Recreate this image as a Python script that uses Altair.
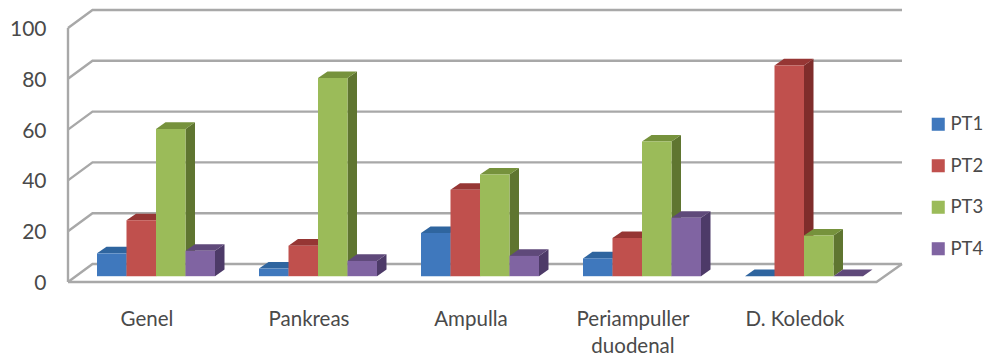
import altair as alt
import pandas as pd

categories = ["Genel", "Pankreas", "Ampulla", "Periampuller\nduodenal", "D. Koledok"]
series_names = ["PT1", "PT2", "PT3", "PT4"]
pt1 = [9, 3, 17, 7, 0]
pt2 = [22, 12, 34, 15, 83]
pt3 = [58, 78, 40, 53, 16]
pt4 = [10, 6, 8, 23, 0]
series_values = [pt1, pt2, pt3, pt4]
tick_values = [0, 20, 40, 60, 80, 100]

front_colors = ["#3F78BD", "#C0504D", "#9BBB59", "#8064A2"]
side_colors = ["#2A5488", "#7F2D2B", "#5F7530", "#4D3A68"]
top_colors = ["#2F659F", "#963634", "#76923C", "#5F497A"]
wall_color = "#A8A8A8"
text_color = "#4A4A4A"
font = "Lato"

# Projection of the pseudo-3D box, in x units and value units
PLOT_W, PLOT_H = 917, 282
UNITS_PER_PX = 1 / 2.54
WALL_DX, WALL_DY = 24.5, 18 * UNITS_PER_PX
RIGHT_BACK, RIGHT_FRONT = 834, 808.5
BAR_DX, BAR_DY = 9.5, 6.6 * UNITS_PER_PX
BAR_BASE = 5.8 * UNITS_PER_PX
GROUP_START, GROUP_STEP, BAR_W = 29, 162, 29.5
LABEL_CENTER = 79
LABEL_Y = -11

x_scale = alt.Scale(domain=[0, PLOT_W], nice=False, zero=False)
y_scale = alt.Scale(domain=[0, PLOT_H * UNITS_PER_PX], nice=False, zero=False)
color_scale = alt.Scale(domain=series_names, range=front_colors)


def wall_lines():
    rows = []
    for v in tick_values:
        for s, (x, y) in enumerate(
            [(0, v), (WALL_DX, v + WALL_DY), (RIGHT_BACK, v + WALL_DY)]
        ):
            rows.append({"line": f"g{v}", "seq": s, "x": x, "y": y})
    for s, (x, y) in enumerate(
        [(0, 0), (RIGHT_FRONT, 0), (RIGHT_BACK, WALL_DY)]
    ):
        rows.append({"line": "floor", "seq": s, "x": x, "y": y})
    for s, (x, y) in enumerate([(0, 0), (0, 100)]):
        rows.append({"line": "wall", "seq": s, "x": x, "y": y})
    return pd.DataFrame(rows)


def bar_left(i, j):
    return GROUP_START + GROUP_STEP * i + BAR_W * j


def front_rows(j):
    return pd.DataFrame(
        [
            {
                "series": series_names[j],
                "x": bar_left(i, j),
                "x2": bar_left(i, j) + BAR_W,
                "y": BAR_BASE + v,
                "y2": BAR_BASE,
            }
            for i, v in enumerate(series_values[j])
        ]
    )


def side_rows(j):
    rows = []
    for i, v in enumerate(series_values[j]):
        r = bar_left(i, j) + BAR_W
        rows.append({"bar": i, "x": r, "y": BAR_BASE + v, "y2": BAR_BASE})
        rows.append(
            {
                "bar": i,
                "x": r + BAR_DX,
                "y": BAR_BASE + v + BAR_DY,
                "y2": BAR_BASE + BAR_DY,
            }
        )
    return pd.DataFrame(rows)


def top_rows(j):
    rows = []
    for i, v in enumerate(series_values[j]):
        left = bar_left(i, j)
        t = BAR_BASE + v
        rows += [
            {"bar": i, "x": left, "y": t, "y2": t},
            {"bar": i, "x": left + BAR_DX, "y": t + BAR_DY, "y2": t},
            {"bar": i, "x": left + BAR_W, "y": t + BAR_DY, "y2": t},
            {"bar": i, "x": left + BAR_W + BAR_DX, "y": t + BAR_DY, "y2": t + BAR_DY},
        ]
    return pd.DataFrame(rows)


X = alt.X("x:Q", scale=x_scale, axis=None)
# Every layer carries the same value axis so the merged axis keeps its labels
Y = alt.Y(
    "y:Q",
    scale=y_scale,
    title=None,
    axis=alt.Axis(
        values=tick_values,
        domain=False,
        ticks=False,
        grid=False,
        labelFont=font,
        labelFontSize=21,
        labelColor=text_color,
        labelPadding=22,
        labelOffset=1.5,
    ),
)

walls = (
    alt.Chart(wall_lines())
    .mark_line(color=wall_color, strokeWidth=2.4, interpolate="linear", strokeJoin="miter")
    .encode(x=X, y=Y, detail="line:N", order="seq:Q")
)

layers = [walls]
for j in range(len(series_names)):
    layers.append(
        alt.Chart(side_rows(j))
        .mark_area(color=side_colors[j], opacity=1)
        .encode(x=X, y=Y, y2="y2:Q", detail="bar:N")
    )
    layers.append(
        alt.Chart(top_rows(j))
        .mark_area(color=top_colors[j], opacity=1)
        .encode(x=X, y=Y, y2="y2:Q", detail="bar:N")
    )
    layers.append(
        alt.Chart(front_rows(j))
        .mark_rect()
        .encode(
            x=X,
            x2="x2:Q",
            y=Y,
            y2="y2:Q",
            color=alt.Color(
                "series:N",
                scale=color_scale,
                legend=alt.Legend(
                    title=None,
                    orient="none",
                    legendX=861,
                    legendY=115,
                    symbolType="square",
                    symbolSize=170,
                    symbolStrokeWidth=0,
                    labelFont=font,
                    labelFontSize=18.5,
                    labelColor=text_color,
                    labelOffset=3,
                    rowPadding=22.5,
                ),
            ),
        )
    )

labels = pd.DataFrame(
    {
        "name": categories,
        "x": [LABEL_CENTER + GROUP_STEP * i for i in range(len(categories))],
        "y": [LABEL_Y] * len(categories),
    }
)
layers.append(
    alt.Chart(labels)
    .mark_text(
        font=font,
        fontSize=20.5,
        color=text_color,
        align="center",
        baseline="top",
        lineBreak="\n",
        lineHeight=27,
    )
    .encode(x=X, y=Y, text="name:N")
)

chart = (
    alt.layer(*layers)
    .properties(
        width=PLOT_W,
        height=PLOT_H,
        padding={"left": 68, "top": 0, "right": 0, "bottom": 76},
        autosize=alt.AutoSizeParams(type="none"),
        background="white",
    )
    .configure_view(stroke=None)
)

chart.save("out.html", embed_options={"renderer": "svg", "actions": False})
